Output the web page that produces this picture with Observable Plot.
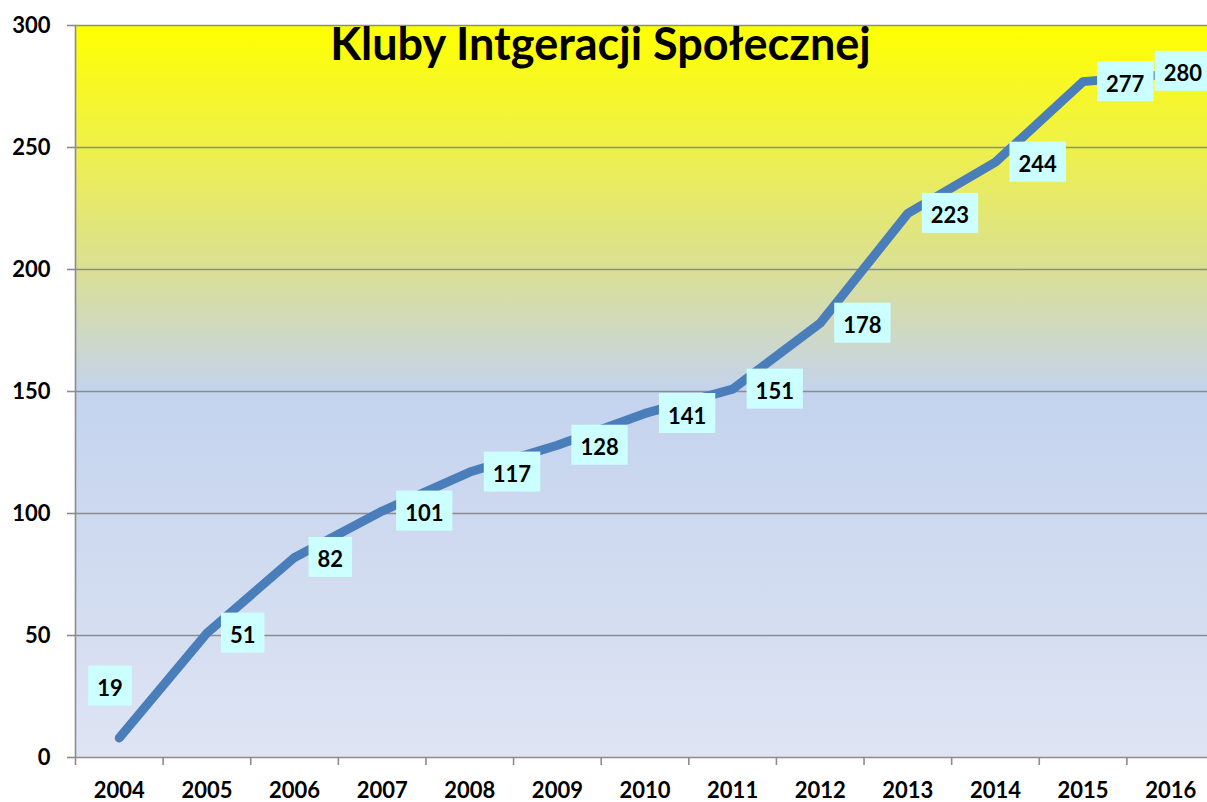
<!DOCTYPE html>
<html>
<head>
<meta charset="utf-8">
<script src="https://cdn.jsdelivr.net/npm/d3@7"></script>
<script src="https://cdn.jsdelivr.net/npm/@observablehq/plot@0.6"></script>
<style>
  html, body { margin: 0; padding: 0; background: #ffffff; }
  #chart { width: 1207px; height: 802px; overflow: hidden; }
</style>
</head>
<body>
<div id="chart"></div>
<script>
// ---- data ----
const title = "Kluby Intgeracji Społecznej";
const years = [2004, 2005, 2006, 2007, 2008, 2009, 2010, 2011, 2012, 2013, 2014, 2015, 2016];
const lineValues = [8, 51, 82, 101, 117, 128, 141, 151, 178, 223, 244, 277, 280];
const labelValues = [19, 51, 82, 101, 117, 128, 141, 151, 178, 223, 244, 277, 280];
const yTicks = [0, 50, 100, 150, 200, 250, 300];

const data = years.map((year, i) => ({year, value: lineValues[i], label: labelValues[i]}));
const boundaries = [years[0] - 0.5, ...years.map(y => y + 0.5)];
const firstLabel = data.slice(0, 1);
const midLabels = data.slice(1, -1);
const lastLabel = data.slice(-1);

const FONT = "Lato, 'Open Sans', sans-serif";
const GRAY = "#8c8c8c";

const gradientDefs = () => {
  const defs = d3.create("svg:defs");
  const g = defs.append("linearGradient").attr("id", "bgGrad")
    .attr("x1", 0).attr("y1", 0).attr("x2", 0).attr("y2", 1);
  [["0%", "#ffff00"], ["17%", "#eef04c"], ["34%", "#d9df98"], ["50%", "#c4d3ee"], ["100%", "#dee4f3"]]
    .forEach(([o, c]) => g.append("stop").attr("offset", o).attr("stop-color", c));
  return defs.node();
};

const labelOpts = {x: "year", y: "value", text: d => String(d.label), className: "lbl", ariaLabel: "lbl",
  textAnchor: "start", fontSize: 22, fontWeight: "bold", fill: "black"};

const chart = Plot.plot({
  width: 1207,
  height: 802,
  marginTop: 25,
  marginBottom: 45,
  marginLeft: 75,
  marginRight: 0,
  style: {fontFamily: FONT, color: "black", background: "white", overflow: "hidden"},
  x: {domain: [boundaries[0], boundaries[boundaries.length - 1]], range: [75, 1214], axis: null, label: null},
  y: {domain: [0, 300], axis: null, label: null},
  marks: [
    gradientDefs,
    Plot.rect([0], {x1: boundaries[0], x2: boundaries[boundaries.length - 1], y1: 0, y2: 300, fill: "url(#bgGrad)"}),
    Plot.ruleY(yTicks, {stroke: GRAY, strokeWidth: 1.6}),
    Plot.ruleX([boundaries[0]], {y1: 0, y2: 300, stroke: GRAY, strokeWidth: 1.6}),
    Plot.axisY({ticks: yTicks, tickSize: 8, tickPadding: 17, stroke: GRAY, strokeWidth: 1.6, label: null,
      fontSize: 22, fontWeight: "bold", tickFormat: d => String(d)}),
    Plot.axisX({ticks: boundaries, tickSize: 8, stroke: GRAY, strokeWidth: 1.6, label: null, tickFormat: () => ""}),
    Plot.axisX({ticks: years, tickSize: 0, tickPadding: 25, fontSize: 22, fontWeight: "bold", label: null,
      tickFormat: d => String(d)}),
    Plot.line(data, {x: "year", y: "value", stroke: "#4a7ebb", strokeWidth: 9,
      strokeLinecap: "round", strokeLinejoin: "round"}),
    Plot.text(firstLabel, {...labelOpts, dx: -22, dy: -49}),
    Plot.text(midLabels, {...labelOpts, dx: 23, dy: 3}),
    Plot.text(lastLabel, {...labelOpts, dx: -7, dy: 0}),
    Plot.text([title], {frameAnchor: "top", dx: -41, dy: 3, lineAnchor: "top",
      fontSize: 45, fontWeight: "bold", fill: "black"})
  ]
});

document.getElementById("chart").appendChild(chart);

// label boxes drawn behind each data label text
const labelTexts = new Set([...chart.querySelectorAll('g.lbl text, text[aria-label="lbl"]')]);
labelTexts.forEach(t => {
  const b = t.getBBox();
  const tr = t.getAttribute("transform");
  const r = document.createElementNS("http://www.w3.org/2000/svg", "rect");
  r.setAttribute("x", b.x - 9);
  r.setAttribute("y", b.y + b.height / 2 - 22);
  r.setAttribute("width", b.width + 18);
  r.setAttribute("height", 40);
  r.setAttribute("fill", "#ccffff");
  if (tr) r.setAttribute("transform", tr);
  t.parentNode.insertBefore(r, t);
});
</script>
</body>
</html>
